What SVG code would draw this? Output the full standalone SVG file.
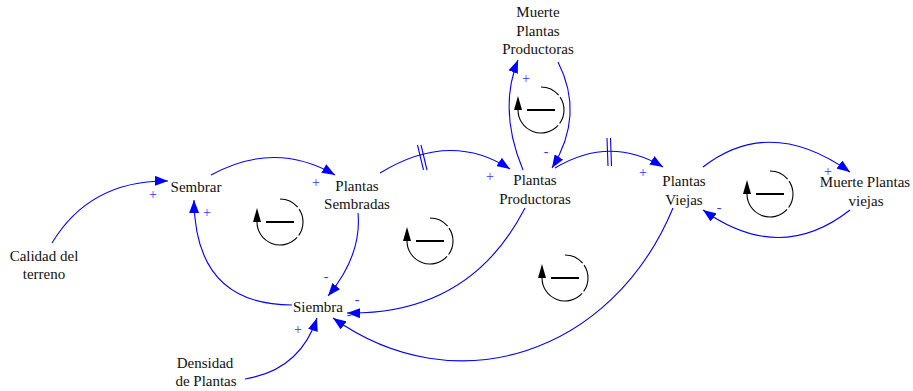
<svg xmlns="http://www.w3.org/2000/svg" width="913" height="391" viewBox="0 0 913 391">
<style>
.t{font-family:'Liberation Serif','DejaVu Serif',serif;font-size:15px;fill:#111;text-anchor:middle}
.p{font-family:'Liberation Serif','DejaVu Serif',serif;font-size:14px;fill:#3333ff;text-anchor:middle}
.c{fill:none;stroke:#0000ff;stroke-width:1.1}
.a{marker-end:url(#ah)}
.d{stroke:#0000ff;stroke-width:1.1}
.la{fill:none;stroke:#000;stroke-width:1.1}
</style>
<defs>
<marker id="ah" viewBox="0 0 13 10" refX="13" refY="5" markerWidth="13" markerHeight="10" markerUnits="userSpaceOnUse" orient="auto">
<path d="M0,0 L13,5 L0,10 z" fill="#0000ff"/>
</marker>
<g id="loop">
<path class="la" d="M0,-23 A23,23 0 0 1 17.62,-14.78 M19.07,-12.86 A23,23 0 0 1 18.61,13.52 M17.09,15.39 A23,23 0 0 1 -23,0"/>
<polygon points="-23,-14 -27,0 -19,0" fill="#000"/>
<line x1="-14" y1="0" x2="14" y2="0" stroke="#000" stroke-width="2"/>
</g>
</defs>
<rect width="913" height="391" fill="#fff"/>
<g id="connectors">
<path class="c a" d="M52,243 Q90,180 168,181"/>
<path class="c a" d="M211,175 Q275,140 335,175"/>
<path class="c a" d="M358,213 Q362,255 328,296"/>
<path class="c a" d="M292,305 Q195,305 194,200"/>
<path class="c a" d="M380,173 Q450,130 510,169"/>
<path class="c a" d="M525,208 Q470,315 347,313"/>
<path class="c a" d="M673,208 C612,355 455,405 333,318"/>
<path class="c a" d="M245,379 Q300,370 317,318"/>
<path class="c a" d="M523,170 Q498,110 518,60"/>
<path class="c a" d="M558,62 Q585,115 552,168"/>
<path class="c a" d="M555,168 Q610,135 663,167"/>
<path class="c a" d="M703,167 Q770,115 850,172"/>
<path class="c a" d="M850,210 Q780,265 703,210"/>
<line class="d" x1="417.5" y1="145" x2="423.5" y2="170"/>
<line class="d" x1="421" y1="145" x2="427" y2="170"/>
<line class="d" x1="607" y1="138" x2="608" y2="166"/>
<line class="d" x1="610.5" y1="138" x2="611.5" y2="166"/>
<text class="p" x="153" y="199">+</text>
<text class="p" x="316" y="187">+</text>
<text class="p" x="207" y="217">+</text>
<text class="p" x="326" y="281">-</text>
<text class="p" x="490" y="181">+</text>
<text class="p" x="643" y="177">+</text>
<text class="p" x="526" y="83">+</text>
<text class="p" x="546" y="156">-</text>
<text class="p" x="828" y="176">+</text>
<text class="p" x="719" y="212">-</text>
<text class="p" x="357" y="304">-</text>
<text class="p" x="349" y="319">-</text>
<text class="p" x="298" y="334">+</text>
</g>
<g id="loops">
<use href="#loop" x="280" y="222"/>
<use href="#loop" x="430" y="241"/>
<use href="#loop" x="565" y="278"/>
<use href="#loop" x="541" y="110"/>
<use href="#loop" x="770" y="194"/>
</g>
<g id="sembrar"><text class="t" x="196" y="192">Sembrar</text></g>
<g id="plantas-sembradas"><text class="t" x="357" y="191">Plantas</text><text class="t" x="357" y="209">Sembradas</text></g>
<g id="plantas-productoras"><text class="t" x="535" y="185">Plantas</text><text class="t" x="535" y="204">Productoras</text></g>
<g id="muerte-plantas-productoras"><text class="t" x="538" y="17">Muerte</text><text class="t" x="538" y="36">Plantas</text><text class="t" x="538" y="54">Productoras</text></g>
<g id="plantas-viejas"><text class="t" x="684" y="186">Plantas</text><text class="t" x="684" y="205">Viejas</text></g>
<g id="muerte-plantas-viejas"><text class="t" x="865" y="187">Muerte Plantas</text><text class="t" x="866" y="206">viejas</text></g>
<g id="calidad-del-terreno"><text class="t" x="44" y="261">Calidad del</text><text class="t" x="44" y="279">terreno</text></g>
<g id="siembra"><text class="t" x="318" y="312">Siembra</text></g>
<g id="densidad-de-plantas"><text class="t" x="205" y="368">Densidad</text><text class="t" x="206" y="386">de Plantas</text></g>
</svg>
